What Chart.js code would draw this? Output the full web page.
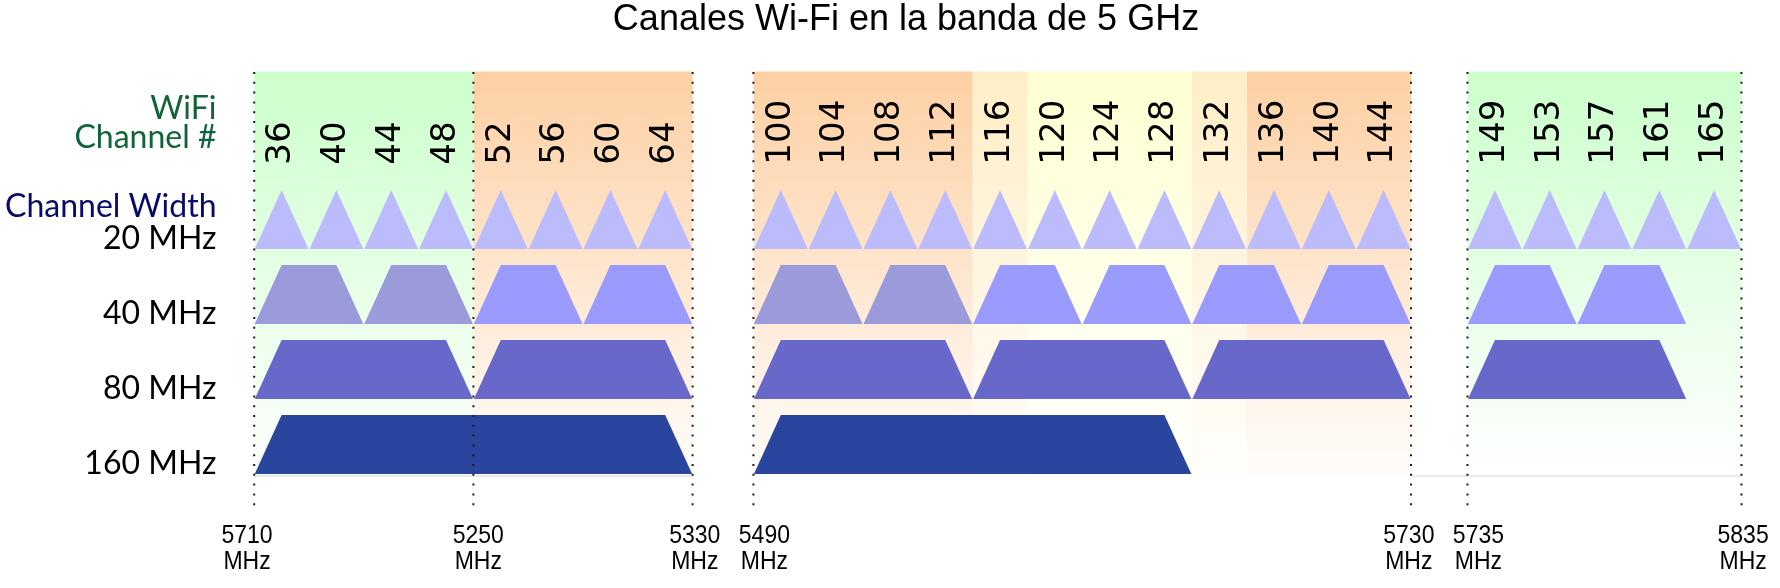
<!DOCTYPE html>
<html>
<head>
<meta charset="utf-8">
<script src="https://cdn.jsdelivr.net/npm/chart.js@4.4.1/dist/chart.umd.min.js"></script>
<style>
html,body{margin:0;padding:0;background:#ffffff;}
#wrap{width:1780px;height:588px;position:relative;}
</style>
</head>
<body>
<div id="wrap"><canvas id="chart"></canvas></div>
<script>
// ---------------- DATA ----------------
const chartTitle = 'Canales Wi-Fi en la banda de 5 GHz';
const channels20 = [36,40,44,48,52,56,60,64,100,104,108,112,116,120,124,128,132,136,140,144,149,153,157,161,165];
const channels40 = [38,46,54,62,102,110,118,126,134,142,151,159];
const channels80 = [42,58,106,122,138,155];
const channels160 = [50,114];
const channelWidths = [20,40,80,160];
const widthLabels = ['20 MHz','40 MHz','80 MHz','160 MHz'];
const bandFirst = [36,52,100,116,120,132,136,149];
const bandLast  = [48,64,112,116,128,132,144,165];
const bandKind  = ['UNII-1','UNII-2A','UNII-2C','UNII-2C-edge','TDWR','UNII-2C-edge','UNII-2C','UNII-3'];
const edgeLabels  = ['5710','5250','5330','5490','5730','5735','5835'];
const edgeChannel = [36,48,64,100,144,149,165];
const edgeSide    = [-1,1,1,-1,1,-1,1];
const headerLines = ['WiFi','Channel #'];
const widthHeader = 'Channel Width';

// ---------------- LAYOUT / STYLE ----------------
const GAP_AFTER = {64:1.11, 144:1.03};      // compressed gaps between band groups (slot units)
const SHAPE_H = 59/75;                       // shape height in row units
const EDGE_GAP = 0.009;
const BAND_TOP = -1.367, BAND_BOTTOM = 4.027;
const DOT_TOP = -1.36, DOT_BOTTOM = 4.48;
const NUM_BASE = -0.125;
const LABEL_X = -1.188;
const HEADER_Y = [-0.729, -0.343];
const WIDTH_HEADER_Y = 0.569;
const FREQ_Y = [4.92, 5.265];
const FREQ_NUDGE = [-0.13, 0.09, 0.04, 0.2, -0.04, 0.2, 0.03];   // label shift, slot units
const FREQ_SQUEEZE = 0.92;
const SHAPE_COLORS = {20:'#bcbcfd', 40:'#9b9bfd', 80:'#6868ca', 160:'#2a459e'};
const GREY40 = [38,46,102,110];
const GREY40_COLOR = '#9b9bdc';
const BAND_COLORS = {
  'UNII-1':['#ccffcc','#ffffff'],
  'UNII-3':['#ccffcc','#ffffff'],
  'UNII-2A':['#fdd0a4','#fffdfb'],
  'UNII-2C':['#fdd0a4','#fffdfb'],
  'UNII-2C-edge':['#ffeec6','#fffefb'],
  'TDWR':['#ffffd2','#fffffd']
};

// slot position of each 20 MHz channel
const posOf = {};
(function(){ let p = 0; channels20.forEach(c => { posOf[c] = p; p += 1 + (GAP_AFTER[c] || 0); }); })();

function shapePoints(center, width, row){
  const n = width/20;
  const first = center - 2*(n-1), last = center + 2*(n-1);
  const pL = posOf[first], pR = posOf[last];
  const bottom = row + 1, top = row + 1 - SHAPE_H;
  return [
    {x: pL - 0.5 + EDGE_GAP, y: bottom},
    {x: pL, y: top},
    {x: pR, y: top},
    {x: pR + 0.5 - EDGE_GAP, y: bottom},
    {x: pL - 0.5 + EDGE_GAP, y: bottom}
  ];
}

function bandGradient(kind){
  const cols = BAND_COLORS[kind];
  return function(ctx){
    const ch = ctx.chart;
    if (!ch.chartArea || !ch.scales.y) return cols[0];
    const ys = ch.scales.y;
    const g = ch.ctx.createLinearGradient(0, ys.getPixelForValue(BAND_TOP), 0, ys.getPixelForValue(BAND_BOTTOM));
    g.addColorStop(0, cols[0]);
    g.addColorStop(1, cols[1]);
    return g;
  };
}

const datasets = [];
// background bands
bandFirst.forEach((f, i) => {
  const xL = posOf[f] - 0.5, xR = posOf[bandLast[i]] + 0.5;
  datasets.push({
    label: 'band ' + bandKind[i],
    data: [{x:xL,y:BAND_TOP},{x:xR,y:BAND_TOP},{x:xR,y:BAND_BOTTOM},{x:xL,y:BAND_BOTTOM},{x:xL,y:BAND_TOP}],
    fill: 'shape', borderWidth: 0, backgroundColor: bandGradient(bandKind[i]), order: 10
  });
});
// faint bottom rules
[[36,64],[144,165]].forEach(([a,b]) => {
  const xL = a === 144 ? posOf[a] + 0.5 : posOf[a] - 0.5;
  datasets.push({
    label: 'rule', data: [{x:xL,y:BAND_BOTTOM},{x:posOf[b]+0.5,y:BAND_BOTTOM}],
    fill: false, borderWidth: 1.5, borderColor: '#e2e2e2', order: 9
  });
});
// channel shapes
const lists = {20: channels20, 40: channels40, 80: channels80, 160: channels160};
channelWidths.forEach((w, row) => {
  lists[w].forEach(c => {
    const col = (w === 40 && GREY40.includes(c)) ? GREY40_COLOR : SHAPE_COLORS[w];
    datasets.push({
      label: w + ' MHz ch ' + c,
      data: shapePoints(c, w, row),
      fill: 'shape', borderWidth: 0, backgroundColor: col, order: 5
    });
  });
});
// dotted frequency boundaries
edgeChannel.forEach((c, i) => {
  const xv = posOf[c] + 0.5*edgeSide[i];
  datasets.push({
    label: edgeLabels[i] + ' MHz',
    data: [{x:xv,y:DOT_TOP},{x:xv,y:DOT_BOTTOM}],
    fill: false, borderWidth: 2, borderColor: '#1a1a1a', borderDash: [2, 7.8], borderCapStyle: 'butt', order: 1
  });
});

const textPlugin = {
  id: 'wifiTexts',
  afterDatasetsDraw(chart){
    const ctx = chart.ctx, xs = chart.scales.x, ys = chart.scales.y;
    ctx.save();
    // channel numbers (rotated)
    ctx.fillStyle = '#000';
    ctx.font = '34px "DejaVu Sans"';
    ctx.textAlign = 'left';
    ctx.textBaseline = 'middle';
    channels20.forEach(c => {
      ctx.save();
      ctx.translate(xs.getPixelForValue(posOf[c]), ys.getPixelForValue(NUM_BASE));
      ctx.rotate(-Math.PI/2);
      ctx.fillText(String(c), 0, 0);
      ctx.restore();
    });
    // left headers
    const lx = xs.getPixelForValue(LABEL_X);
    ctx.textAlign = 'right';
    ctx.textBaseline = 'alphabetic';
    ctx.font = '32px Lato';
    ctx.fillStyle = '#10643a';
    headerLines.forEach((t, i) => ctx.fillText(t, lx, ys.getPixelForValue(HEADER_Y[i])));
    ctx.fillStyle = '#0a0a6a';
    ctx.fillText(widthHeader, lx, ys.getPixelForValue(WIDTH_HEADER_Y));
    ctx.fillStyle = '#000';
    widthLabels.forEach((t, r) => ctx.fillText(t, lx, ys.getPixelForValue(r + 1)));
    // frequency labels
    ctx.font = '25px "Liberation Sans"';
    ctx.textAlign = 'center';
    edgeChannel.forEach((c, i) => {
      const px = xs.getPixelForValue(posOf[c] + 0.5*edgeSide[i] + FREQ_NUDGE[i]);
      ctx.save();
      ctx.translate(px, 0);
      ctx.scale(FREQ_SQUEEZE, 1);
      ctx.fillText(edgeLabels[i], 0, ys.getPixelForValue(FREQ_Y[0]));
      ctx.fillText('MHz', 0, ys.getPixelForValue(FREQ_Y[1]));
      ctx.restore();
    });
    ctx.restore();
  }
};

const X_MIN = -(281.6 - 32)/54.8;
const X_MAX = X_MIN + 1748/54.8;

function build(){
  new Chart(document.getElementById('chart'), {
    type: 'line',
    data: { datasets },
    options: {
      responsive: true,
      maintainAspectRatio: false,
      animation: false,
      events: [],
      layout: { padding: {left: 32, right: 0, top: 0, bottom: 0} },
      elements: {
        point: { radius: 0, hoverRadius: 0 },
        line: { tension: 0, borderJoinStyle: 'miter' }
      },
      scales: {
        x: { type: 'linear', min: X_MIN, max: X_MAX, display: false },
        y: { type: 'linear', min: -1.78667, max: 5.52, reverse: true, display: false }
      },
      plugins: {
        legend: { display: false },
        tooltip: { enabled: false },
        title: {
          display: true,
          text: chartTitle,
          color: '#000',
          font: { family: '"Liberation Sans", Arial, sans-serif', size: 36, weight: 'normal', lineHeight: '40px' },
          padding: { top: 0, bottom: 0 }
        }
      }
    },
    plugins: [textPlugin]
  });
}
Promise.all([
  document.fonts.load('32px Lato'),
  document.fonts.load('34px "DejaVu Sans"'),
  document.fonts.load('25px "Liberation Sans"')
]).then(build, build);
</script>
</body>
</html>
